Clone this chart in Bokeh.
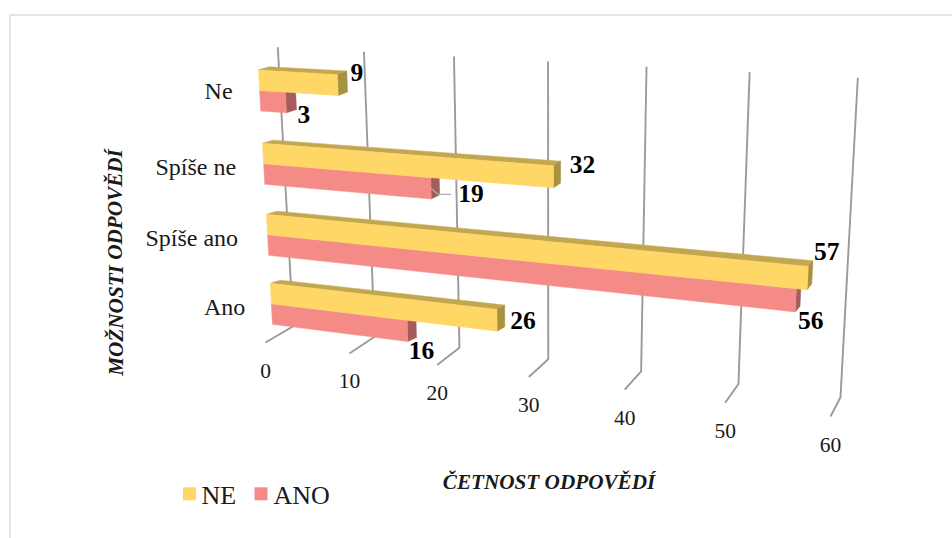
from bokeh.plotting import figure
from bokeh.embed import file_html
from bokeh.resources import INLINE
from bokeh.core.properties import value

# ---- data
categories = ["Ano", "Spíše ano", "Spíše ne", "Ne"]
ne_values = [26, 57, 32, 9]
ano_values = [16, 56, 19, 3]
tick_values = [0, 10, 20, 30, 40, 50, 60]
series_names = ["NE", "ANO"]
x_title = "ČETNOST ODPOVĚDÍ"
y_title = "MOŽNOSTI ODPOVĚDÍ"

# ---- colours and type
NE_FRONT, NE_TOP, NE_SIDE = "#FFD766", "#C3A750", "#A8913F"
ANO_FRONT, ANO_SIDE = "#F58B87", "#A55C5C"
GRID = "#9A9A9A"
FRAME = "#E4E4E4"
SERIF = value("Liberation Serif")
TEXT = "#1a1a1a"

# ---- perspective box: corners of the chart walls at the axis minimum and maximum, in picture pixels
VMAX = 60.0
PERSP = 1.146
BACK_BOTTOM_0, BACK_BOTTOM_1 = (292.7, 325.7), (840.0, 396.7)
BACK_TOP_0, BACK_TOP_1 = (277.3, 46.7), (857.3, 77.3)
FRONT_0, FRONT_1 = (265.0, 342.0), (830.0, 416.0)
BAR_FRONT = 0.72
BAR_DEPTH_0, BAR_DEPTH_1 = (10.3, -3.2), (4.3, -5.9)
ROW_CENTRES = [0.1222, 0.3695, 0.624, 0.8867]
BAR_THICK = 0.0735


def lerp(a, b, t):
    return (a[0] + (b[0] - a[0]) * t, a[1] + (b[1] - a[1]) * t)


def project(v, h=0.0, d=0.0):
    """value v on the axis, height h on the wall (0..1), depth d from the back wall (0..1)."""
    t = v / (v + PERSP * (VMAX - v))
    bottom = lerp(BACK_BOTTOM_0, BACK_BOTTOM_1, t)
    top = lerp(BACK_TOP_0, BACK_TOP_1, t)
    front = lerp(FRONT_0, FRONT_1, t)
    wall = lerp(bottom, top, h)
    return (wall[0] + (front[0] - bottom[0]) * d, wall[1] + (front[1] - bottom[1]) * d)


def bar_front(v, h):
    return project(v, h, BAR_FRONT)


def bar_back(v, h):
    f = bar_front(v, h)
    o = lerp(BAR_DEPTH_0, BAR_DEPTH_1, v / VMAX)
    return (f[0] + o[0], f[1] + o[1])


def poly(*pts):
    return [q[0] for q in pts], [q[1] for q in pts]


p = figure(width=952, height=538, x_range=(0, 952), y_range=(538, 0),
           output_backend="svg", toolbar_location=None, min_border=0,
           x_axis_type=None, y_axis_type=None, outline_line_color=None,
           background_fill_color="white", border_fill_color="white")
p.grid.visible = False

# frame of the picture
p.line([9.5, 9.5, 952], [538, 14.5, 14.5], line_color=FRAME, line_width=2)

# gridlines with their floor ticks
grid_xs, grid_ys = [], []
for v in tick_values:
    xs, ys = poly(project(v, 1, 0), project(v, 0, 0), project(v, 0, 1))
    grid_xs.append(xs)
    grid_ys.append(ys)
p.multi_line(grid_xs, grid_ys, line_color=GRID, line_width=1.9)

# tick labels
TICK_DROP = 28
tx, ty = zip(*[project(v, 0, 1) for v in tick_values])
p.text(list(tx), [y + TICK_DROP for y in ty], text=[str(v) for v in tick_values],
       text_font=SERIF, text_font_size="21.5px", text_color=TEXT,
       text_align="center", text_baseline="middle")


def box(val, h0, h1, front, top, side, with_top):
    faces = []
    if with_top:
        faces.append((poly(bar_front(0, h1), bar_front(val, h1), bar_back(val, h1), bar_back(0, h1)), top))
    faces.append((poly(bar_front(val, h1), bar_back(val, h1), bar_back(val, h0), bar_front(val, h0)), side))
    faces.append((poly(bar_front(0, h1), bar_front(val, h1), bar_front(val, h0), bar_front(0, h0)), front))
    return faces


xs, ys, cs = [], [], []
for centre, ne, ano in zip(ROW_CENTRES, ne_values, ano_values):
    for (fx, fy), c in box(ano, centre - BAR_THICK, centre, ANO_FRONT, ANO_FRONT, ANO_SIDE, False):
        xs.append(fx); ys.append(fy); cs.append(c)
    for (fx, fy), c in box(ne, centre, centre + BAR_THICK, NE_FRONT, NE_TOP, NE_SIDE, True):
        xs.append(fx); ys.append(fy); cs.append(c)
p.patches(xs, ys, fill_color=cs, line_color=cs, line_width=0.5)

# leader line of the hand-moved label on the short bar of row "Spíše ne"
lead = bar_front(ano_values[2], ROW_CENTRES[2] - BAR_THICK / 2)
p.line([lead[0], lead[0] + 7, lead[0] + 20], [lead[1], lead[1] + 6, lead[1] + 6], line_color="#B0B0B0", line_width=1.2)

# data labels: offset from the middle of each bar end
NE_OFFSETS = [(26, 0), (19, -27), (29, -12), (19, -13)]
ANO_OFFSETS = [(14, 19.5), (15, 20), (40, 5), (18, 12)]
lx, ly, lt = [], [], []
for centre, ne, ano, o1, o2 in zip(ROW_CENTRES, ne_values, ano_values, NE_OFFSETS, ANO_OFFSETS):
    a = bar_front(ne, centre + BAR_THICK / 2)
    lx.append(a[0] + o1[0]); ly.append(a[1] + o1[1]); lt.append(str(ne))
    b = bar_front(ano, centre - BAR_THICK / 2)
    lx.append(b[0] + o2[0]); ly.append(b[1] + o2[1]); lt.append(str(ano))
p.text(lx, ly, text=lt, text_font=SERIF, text_font_style="bold", text_font_size="25.5px",
       text_color="#000000", text_align="center", text_baseline="middle")

# category labels, right-aligned beside the bars
CAT_SHIFT = [(-26, 3), (-29.5, 3), (-27.5, 3), (-27, 0)]
cx, cy = [], []
for centre, s in zip(ROW_CENTRES, CAT_SHIFT):
    a = bar_front(0, centre)
    cx.append(a[0] + s[0]); cy.append(a[1] + s[1])
p.text(cx, cy, text=categories, text_font=SERIF, text_font_size="24px", text_color=TEXT,
       text_align="right", text_baseline="middle")

# axis titles
p.text([548.5], [481], text=[x_title], text_font=SERIF, text_font_style="bold italic",
       text_font_size="21.2px", text_color=TEXT, text_align="center", text_baseline="middle")
p.text([115], [262], text=[y_title], text_font=SERIF, text_font_style="bold italic",
       text_font_size="21.2px", text_color=TEXT, text_align="center", text_baseline="middle", angle=1.5708)

# legend
p.scatter([189, 260.5], [493.3, 493.3], marker="square", size=13, fill_color=[NE_FRONT, ANO_FRONT], line_color=None)
p.text([201, 273], [494.5, 494.5], text=series_names, text_font=SERIF, text_font_size="26px", text_color=TEXT,
       text_align="left", text_baseline="middle")

open("out.html", "w").write(file_html(p, INLINE))
